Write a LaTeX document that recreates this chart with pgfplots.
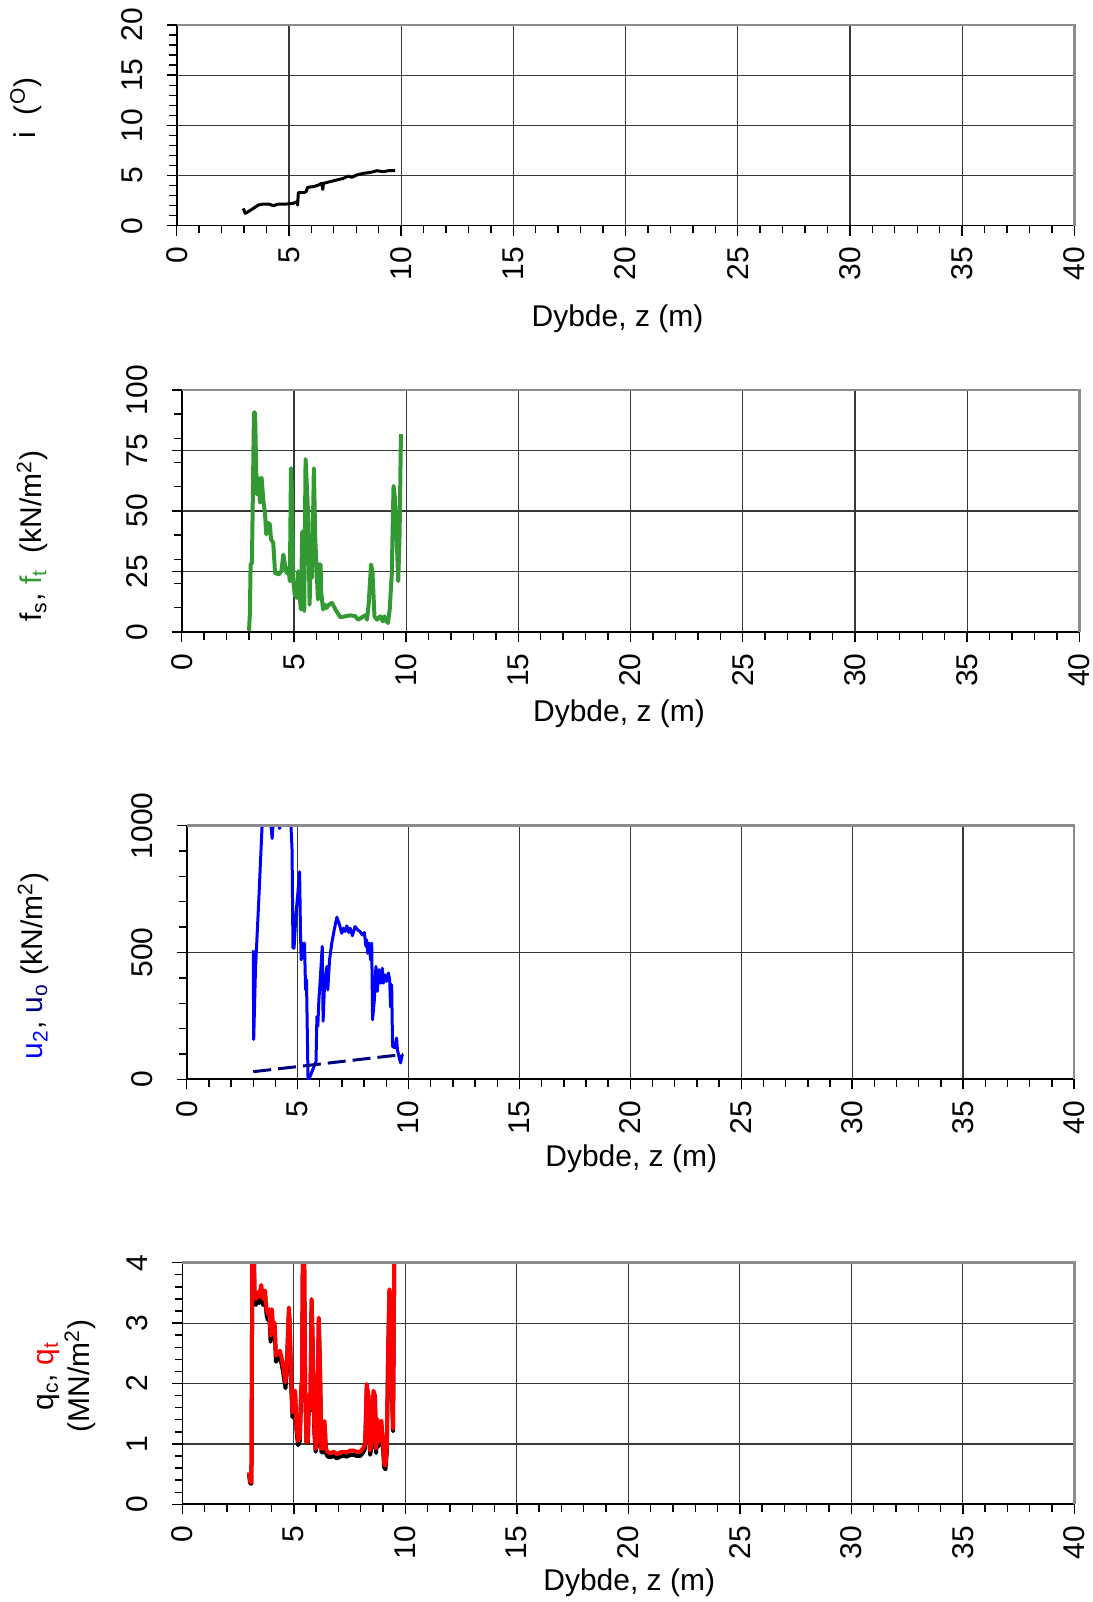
\documentclass[border=0pt]{standalone}
\usepackage{pgfplots}
\pgfplotsset{compat=1.18}
\usepackage{fontspec}
\setmainfont{Liberation Sans}

\definecolor{cptgreen}{RGB}{51,153,51}
\definecolor{cptnavy}{RGB}{0,0,128}
\definecolor{gridgray}{RGB}{55,55,55}
\definecolor{framegray}{RGB}{140,140,140}

\pgfplotsset{
  cpt/.style={
    scale only axis,
    xmin=0, xmax=40,
    xtick={0,5,...,40},
    minor x tick num=4,
    axis lines*=left,
    axis line style={black, line width=0.8pt},
    tick align=outside,
    major tick length=5pt,
    minor tick length=3.8pt,
    every tick/.style={black, line width=0.7pt},
    grid=major,
    major grid style={gridgray, line width=0.6pt},
    tick label style={font=\fontsize{15}{18}\selectfont},
    xticklabel style={rotate=90, anchor=east, inner sep=0pt},
    yticklabel style={rotate=90, anchor=south, inner sep=0pt},
    xticklabel shift=5.5pt,
    yticklabel shift=12pt,
    /pgf/number format/assume math mode=true,
    /pgf/number format/1000 sep={},
    extra description/.code={
      \draw[framegray, line width=1.3pt]
        (axis description cs:0,1) -- (axis description cs:1,1) -- (axis description cs:1,0);
    },
  },
}

\begin{document}
\begin{tikzpicture}
\useasboundingbox (0,0) rectangle (546.5pt,801pt);
\tikzset{every node/.append style={font=\fontsize{15}{18}\selectfont}}

% inclination
\begin{axis}[cpt,
    at={(88.35pt,688.15pt)}, anchor=south west,
    width=448.8pt, height=100.35pt,
    ymin=0, ymax=20, ytick={0,5,...,20}, minor y tick num=4,
]
\addplot[black, line width=1.5pt, line join=round] coordinates {
  (2.97,1.73) (3.05,1.23) (3.19,1.40) (3.42,1.73) (3.64,2.06) (3.86,2.16)
  (4.09,2.16) (4.31,1.99) (4.53,2.16) (4.90,2.16) (5.20,2.23) (5.35,2.39)
  (5.39,2.06) (5.42,3.29) (5.65,3.29) (5.77,3.39) (5.83,3.82) (6.09,3.89)
  (6.32,4.05) (6.46,4.22) (6.51,3.62) (6.54,4.22) (6.84,4.39) (7.13,4.55)
  (7.43,4.72) (7.65,4.95) (7.80,4.82) (8.02,5.05) (8.32,5.22) (8.54,5.28)
  (8.77,5.38) (8.92,5.48) (9.21,5.38) (9.44,5.48) (9.73,5.48)
};
\end{axis}

% sleeve friction
\begin{axis}[cpt,
    at={(90.85pt,485pt)}, anchor=south west,
    width=448.8pt, height=121pt,
    ymin=0, ymax=100, ytick={0,25,...,100}, minor ytick={10,20,...,90},
]
\addplot[cptgreen, line width=2pt, line join=round] coordinates {
  (3.00,0.5) (3.04,7.9) (3.07,27.9) (3.13,28.6) (3.22,90.7) (3.27,90.7)
  (3.34,56.9) (3.41,63.8) (3.49,53.5) (3.56,63.8) (3.64,54.1) (3.71,49.3)
  (3.77,40.3) (3.81,45.2) (3.93,44.5) (3.98,38.3) (4.08,36.9) (4.16,24.4)
  (4.33,23.8) (4.44,25.1) (4.53,32.0) (4.60,27.9) (4.67,24.4) (4.75,26.5)
  (4.82,21.0) (4.87,67.7) (4.91,58.3) (4.97,21.0) (5.04,15.5) (5.12,14.1)
  (5.19,25.1) (5.25,15.5) (5.31,9.3) (5.37,41.0) (5.41,41.7) (5.46,8.6)
  (5.52,71.4) (5.56,63.8) (5.64,47.2) (5.70,11.3) (5.76,36.2) (5.81,22.4)
  (5.89,67.7) (5.95,38.9) (6.01,26.5) (6.07,13.4) (6.14,27.9) (6.19,27.9)
  (6.21,16.9) (6.30,9.3) (6.38,11.3) (6.45,9.9) (6.56,11.3) (6.70,12.0)
  (6.85,9.3) (7.07,6.1) (7.30,6.5) (7.52,6.9) (7.74,6.5) (7.86,5.1)
  (8.04,6.1) (8.19,6.9) (8.26,5.1) (8.33,11.3) (8.44,27.9) (8.50,25.1)
  (8.59,6.5) (8.70,5.1) (8.85,6.5) (8.96,4.4) (9.03,6.5) (9.12,4.4)
  (9.19,3.7) (9.27,9.3) (9.36,23.8) (9.44,60.4) (9.50,55.5) (9.59,36.2)
  (9.65,21.0) (9.71,40.3) (9.77,81.8)
};
\end{axis}

% pore pressure
\begin{axis}[cpt,
    at={(93.35pt,261.35pt)}, anchor=south west,
    width=443.65pt, height=126.8pt,
    ymin=0, ymax=1000, ytick={0,500,1000}, minor y tick num=4,
]
\addplot[blue, line width=1.5pt, line join=round] coordinates {
  (3.00,508) (3.02,157) (3.10,432) (3.25,707) (3.35,904) (3.40,1002)
  (3.45,1080) (3.75,1050) (3.80,1000) (3.85,950) (3.89,1000) (4.00,1060)
  (4.16,1000) (4.19,989) (4.22,1000) (4.40,1100) (4.70,1000) (4.75,904)
  (4.79,517) (4.84,517) (4.93,655) (5.01,733) (5.09,818) (5.13,576)
  (5.16,471) (5.22,537) (5.27,478) (5.31,537) (5.36,353) (5.40,393)
  (5.47,0) (5.51,0) (5.83,70) (5.87,248) (5.91,209) (5.96,314) (6.02,393)
  (6.11,524) (6.15,229) (6.21,366) (6.32,445) (6.36,353) (6.44,471)
  (6.54,537) (6.65,589) (6.77,639) (6.89,609) (6.99,576) (7.07,596)
  (7.14,583) (7.22,605) (7.31,579) (7.37,596) (7.47,566) (7.59,602)
  (7.71,589) (7.81,583) (7.92,569) (8.01,579) (8.08,524) (8.11,550)
  (8.16,497) (8.23,537) (8.29,471) (8.34,537) (8.38,235) (8.46,314)
  (8.53,445) (8.59,347) (8.67,432) (8.74,379) (8.82,438) (8.86,379)
  (8.94,412) (9.01,386) (9.09,419) (9.15,393) (9.19,285) (9.24,373)
  (9.28,130) (9.38,124) (9.46,163) (9.50,117) (9.58,85) (9.64,65) (9.72,98)
};
\addplot[cptnavy, line width=1.5pt, dash pattern=on 9pt off 3.5pt] coordinates {
  (3.00,30) (9.76,98)
};
\end{axis}

% cone resistance
\begin{axis}[cpt,
    at={(91.15pt,48.85pt)}, anchor=south west,
    width=446pt, height=120.8pt,
    ymin=0, ymax=4, ytick={0,1,...,4}, minor y tick num=4,
]
\addplot[black, line width=2pt, line join=round] coordinates {
  (2.99,0.50) (3.04,0.35) (3.10,0.34) (3.14,4.2) (3.21,4.2) (3.24,3.35)
  (3.30,3.30) (3.36,3.41) (3.44,3.33) (3.54,3.53) (3.62,3.30) (3.71,3.44)
  (3.78,3.13) (3.84,3.05) (3.90,3.13) (3.96,2.69) (4.02,3.13) (4.08,2.75)
  (4.14,2.91) (4.20,2.36) (4.29,2.42) (4.38,2.44) (4.45,2.33) (4.52,2.19)
  (4.63,1.92) (4.70,2.36) (4.78,3.18) (4.82,2.93) (4.88,2.00) (4.94,1.44)
  (5.00,1.78) (5.06,1.81) (5.12,1.23) (5.19,0.98) (5.27,1.05) (5.33,1.86)
  (5.37,2.03) (5.41,4.3) (5.46,4.3) (5.51,1.90) (5.57,1.02) (5.63,1.02)
  (5.68,1.78) (5.74,1.55) (5.80,3.37) (5.86,2.42) (5.92,1.20) (5.98,0.87)
  (6.04,0.98) (6.12,3.03) (6.18,2.12) (6.24,0.86) (6.32,0.86) (6.38,1.32)
  (6.44,0.85) (6.52,0.79) (6.64,0.78) (6.79,0.80) (6.93,0.76) (7.08,0.79)
  (7.23,0.80) (7.38,0.79) (7.53,0.82) (7.68,0.82) (7.83,0.80) (7.98,0.80)
  (8.13,0.87) (8.20,0.93) (8.27,1.92) (8.35,1.73) (8.42,0.82) (8.50,0.96)
  (8.57,1.81) (8.64,1.73) (8.69,0.85) (8.75,1.34) (8.81,0.96) (8.87,1.29)
  (8.93,1.31) (8.99,1.01) (9.05,0.61) (9.11,0.58) (9.17,0.86) (9.23,2.47)
  (9.29,3.52) (9.35,3.36) (9.40,1.86) (9.45,1.21) (9.51,4.3)
};
\addplot[red, line width=2pt, line join=round] coordinates {
  (2.99,0.53) (3.04,0.38) (3.10,0.36) (3.14,4.3) (3.21,4.3) (3.24,3.45)
  (3.30,3.40) (3.36,3.51) (3.44,3.43) (3.54,3.63) (3.62,3.40) (3.71,3.54)
  (3.78,3.23) (3.84,3.15) (3.90,3.23) (3.96,2.79) (4.02,3.23) (4.08,2.85)
  (4.14,3.01) (4.20,2.46) (4.29,2.52) (4.38,2.54) (4.45,2.43) (4.52,2.29)
  (4.63,2.02) (4.70,2.46) (4.78,3.26) (4.82,3.01) (4.88,2.07) (4.94,1.52)
  (5.00,1.85) (5.06,1.88) (5.12,1.30) (5.19,1.05) (5.27,1.11) (5.33,1.91)
  (5.37,2.07) (5.41,4.3) (5.46,4.3) (5.51,1.91) (5.57,1.03) (5.63,1.03)
  (5.68,1.80) (5.74,1.58) (5.80,3.40) (5.86,2.46) (5.92,1.25) (5.98,0.92)
  (6.04,1.03) (6.12,3.09) (6.18,2.18) (6.24,0.92) (6.32,0.92) (6.38,1.38)
  (6.44,0.92) (6.52,0.86) (6.64,0.85) (6.79,0.87) (6.93,0.83) (7.08,0.86)
  (7.23,0.87) (7.38,0.86) (7.53,0.89) (7.68,0.89) (7.83,0.87) (7.98,0.87)
  (8.13,0.94) (8.20,1.00) (8.27,1.99) (8.35,1.80) (8.42,0.89) (8.50,1.03)
  (8.57,1.88) (8.64,1.80) (8.69,0.92) (8.75,1.41) (8.81,1.03) (8.87,1.36)
  (8.93,1.38) (8.99,1.08) (9.05,0.67) (9.11,0.64) (9.17,0.92) (9.23,2.52)
  (9.29,3.56) (9.35,3.40) (9.40,1.91) (9.45,1.25) (9.51,4.3)
};
\end{axis}

% axis titles
\node[rotate=90] at (12.9pt,747pt) {i\ \ (\textsuperscript{O})};
\node[rotate=90] at (16.25pt,533pt)
  {f\textsubscript{s}, \textcolor{cptgreen}{f\textsubscript{t}}\ \ (kN/m\textsuperscript{2})};
\node[rotate=90] at (16.7pt,318pt)
  {\textcolor{blue}{u\textsubscript{2}}, \textcolor{cptnavy}{u\textsubscript{o}} (kN/m\textsuperscript{2})};
\node[rotate=90, align=center] at (33.3pt,113pt)
  {q\textsubscript{c}, \textcolor{red}{q\textsubscript{t}}\\(MN/m\textsuperscript{2})};

\node at (308.75pt,641.65pt) {Dybde, z (m)};
\node at (309.5pt,444pt) {Dybde, z (m)};
\node at (315.6pt,221.8pt) {Dybde, z (m)};
\node at (314.6pt,9.85pt) {Dybde, z (m)};
\end{tikzpicture}
\end{document}
